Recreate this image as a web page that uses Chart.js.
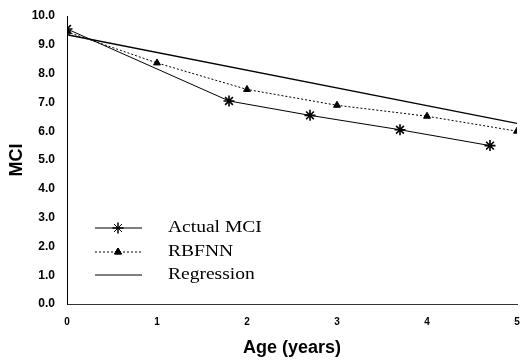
<!DOCTYPE html>
<html><head><meta charset="utf-8">
<script src="https://cdn.jsdelivr.net/npm/chart.js@4.4.1/dist/chart.umd.min.js"></script>
<style>html,body{margin:0;padding:0;background:#fff;}#wrap{width:528px;height:363px;}</style>
</head><body><div id="wrap"><canvas id="c" width="528" height="363"></canvas></div>
<script>
const seriesNames = ["Actual MCI", "RBFNN", "Regression"];
const actualAge = [0, 1.8, 2.7, 3.7, 4.7];
const actualMCI = [9.55, 7.05, 6.55, 6.05, 5.5];
const rbfnnAge = [0, 1, 2, 3, 4, 5];
const rbfnnMCI = [9.45, 8.37, 7.45, 6.9, 6.52, 6.0];
const regAge = [0, 5];
const regMCI = [9.35, 6.27];
const xTicks = [0, 1, 2, 3, 4, 5];
const yTicks = [0, 1, 2, 3, 4, 5, 6, 7, 8, 9, 10];

const toPts = (xs, ys) => xs.map((x, i) => ({x, y: ys[i]}));

const legendPlugin = {
  id: 'customLegend',
  afterDraw(chart) {
    const ctx = chart.ctx;
    const rows = [228, 252, 275];
    chart.data.datasets.forEach((ds, i) => {
      const y = rows[i];
      ctx.save();
      ctx.strokeStyle = '#000';
      ctx.lineWidth = 1;
      ctx.setLineDash(ds.borderDash || []);
      ctx.beginPath(); ctx.moveTo(95, y); ctx.lineTo(142, y); ctx.stroke();
      ctx.setLineDash([]);
      if (ds.pointRadius > 0) {
        Chart.helpers.drawPoint(ctx, {pointStyle: ds.pointStyle, radius: ds.pointRadius, rotation: 0, borderWidth: ds.pointBorderWidth || 1}, 118, y);
        ctx.fillStyle = '#000';
        if (ds.pointStyle === 'triangle') ctx.fill();
        ctx.stroke();
      }
      ctx.fillStyle = '#000';
      ctx.font = '16px "Liberation Serif"';
      ctx.textBaseline = 'middle';
      ctx.translate(168, y);
      ctx.scale(1.22, 1);
      ctx.fillText(ds.label, 0, 0);
      ctx.restore();
    });
  }
};

new Chart(document.getElementById('c'), {
  type: 'scatter',
  data: {
    datasets: [
      {label: seriesNames[0], data: toPts(actualAge, actualMCI), showLine: true, borderColor: '#000', backgroundColor: '#000', borderWidth: 1, pointStyle: 'star', pointRadius: 5.5, pointBorderWidth: 1.6, pointBorderColor: '#000'},
      {label: seriesNames[1], data: toPts(rbfnnAge, rbfnnMCI), showLine: true, borderColor: '#000', backgroundColor: '#000', borderWidth: 1, borderDash: [2, 2], pointStyle: 'triangle', pointRadius: 4, pointBorderWidth: 1, pointBackgroundColor: '#000', pointBorderColor: '#000'},
      {label: seriesNames[2], data: toPts(regAge, regMCI), showLine: true, borderColor: '#000', borderWidth: 1.3, pointRadius: 0}
    ]
  },
  options: {
    responsive: false,
    animation: false,
    layout: {padding: {left: 0, right: 11, top: 16, bottom: 0}},
    plugins: {legend: {display: false}, tooltip: {enabled: false}},
    scales: {
      x: {
        type: 'linear', min: 0, max: 5,
        afterBuildTicks: s => { s.ticks = xTicks.map(v => ({value: v})); },
        afterFit: s => { s.height = 59; s.paddingLeft = 0; s.paddingRight = 0; },
        grid: {display: true, drawOnChartArea: false, drawTicks: false, color: '#000'},
        border: {color: '#333', width: 1},
        ticks: {padding: 12, color: '#000', font: {family: '"Liberation Sans"', weight: 'bold', size: 10}, callback: v => String(v)},
        title: {display: true, text: 'Age (years)', color: '#000', font: {family: '"Liberation Sans"', weight: 'bold', size: 18}, padding: {top: 5}}
      },
      y: {
        min: 0, max: 10,
        afterBuildTicks: s => { s.ticks = yTicks.map(v => ({value: v})); },
        afterFit: s => { s.width = 67; s.paddingTop = 0; s.paddingBottom = 0; },
        grid: {display: true, drawOnChartArea: false, drawTicks: false},
        border: {color: '#000', width: 1},
        ticks: {padding: 12, color: '#000', font: {family: '"Liberation Sans"', weight: 'bold', size: 12}, callback: v => v.toFixed(1)},
        title: {display: true, text: 'MCI', color: '#000', font: {family: '"Liberation Sans"', weight: 'bold', size: 18}, padding: {top: 6, bottom: 0}}
      }
    }
  },
  plugins: [legendPlugin]
});
</script></body></html>
